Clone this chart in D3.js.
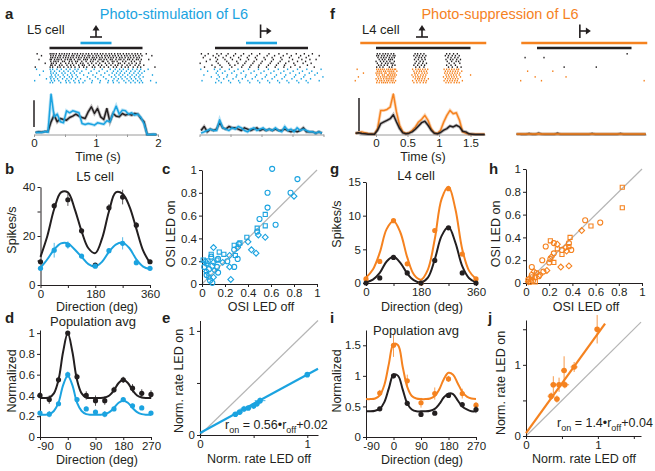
<!DOCTYPE html>
<html>
<head>
<meta charset="utf-8">
<script src="https://cdn.jsdelivr.net/npm/d3@7/dist/d3.min.js"></script>
<style>
  body { margin: 0; background: #fff; }
  svg { font-family: "Liberation Sans", Arial, sans-serif; }
  .axis text { font-size: 11.5px; fill: #231f20; }
  .axis path, .axis line { stroke: #231f20; stroke-width: 1; }
  .psth-axis path, .psth-axis line { stroke: #9a9a9a; }
  .psth-axis text { font-size: 11.5px; fill: #231f20; }
</style>
</head>
<body>
<svg id="fig" width="655" height="471"></svg>
<script>
const svg = d3.select("#fig");

const cyan = "#1ba3e0";
const orange = "#f5821f";
const dark = "#231f20";
const grey = "#b5b5b5";

// ---- a: L5 cell, photo-stimulation (PSTH in 50 ms bins, arbitrary units, scale bar = 20)
const binsA = d3.range(40).map(k => 0.025 + 0.05 * k);
const psthL5Off = [1.5, 2, 1.75, 2.25, 2.25, 9.5, 14.5, 9.5, 12, 11.25, 10.75, 12.75, 13.75, 15.25, 13.75, 12.75, 12, 17, 20.75, 15.75,
  19.5, 13.25, 11.25, 19.5, 9.5, 15.75, 13.75, 13.25, 15.75, 14.5, 15.25, 14.5, 15.75, 15.25, 12, 9.5, 0, 0, 0, 0];
const psthL5On = [1.5, 1.75, 1.5, 2.25, 1.75, 30.25, 13.25, 15.25, 9.5, 8.75, 17.75, 16.25, 17.75, 17, 16.25, 8.25, 7.5, 8.25, 7.75, 7,
  8.75, 8.25, 7.75, 10.25, 9.5, 15.75, 21.25, 15.25, 18.25, 17.75, 15.25, 16.25, 14.5, 15.25, 12.75, 8, 0, 0, 0.25, 0];
const psthL5OffPref = [3, 6, 2, 4, 3, 4, 9, 5, 4, 6, 5, 5, 4, 3, 5, 4, 3, 4, 5, 3,
  4, 3, 4, 3, 4, 3, 3, 4, 3, 2, 3, 2, 3, 5, 2, 2, 2, 1, 2, 1];
const psthL5OnPref = [1, 2, 3, 4, 3, 3, 11, 5, 4, 3, 5, 4, 6, 5, 3, 2, 4, 5, 3, 4,
  5, 3, 4, 3, 5, 3, 2, 6, 3, 4, 2, 5, 3, 4, 3, 2, 2, 1, 2, 1];

// spike times, hundredths of a second
const rasterL5Off = [
  "5 26 29 32 36 41 45 49 53 57 62 66 70 75 79 84 88 93 98 102 107 111 116 121 125 130 135 139 144 149 153 158 163 167 172 181",
  "12 27 31 35 40 43 48 52 56 61 64 69 73 78 82 87 90 95 100 104 109 114 118 122 127 131 136 141 146 150 155 160 164 169 174 190",
  "27 30 34 38 42 47 51 55 59 63 68 72 76 81 85 89 94 97 101 106 110 115 120 124 128 133 138 142 147 152 156 161 166 170",
  "8 26 28 33 37 40 44 50 54 58 60 65 71 74 80 83 86 92 96 99 105 108 113 117 123 126 132 137 140 145 151 154 159 165 168 173 185",
  "27 32 35 39 46 49 57 61 67 70 77 84 91 95 103 110 112 119 126 129 134 143 148 157 162 171",
  "18 28 31 36 43 51 56 62 68 75 79 87 93 100 106 115 121 127 136 139 146 153 158 165 171",
  "27 29 34 41 45 53 59 64 72 78 81 89 96 104 109 117 124 131 135 142 150 155 163 169 177",
  "2 26 30 38 42 48 55 60 66 73 80 85 94 98 107 113 120 128 133 141 147 152 160 167 172 195"
];
const rasterL5On = [
  "4 26 30 37 44 52 58 66 71 84 97 110 123 131 138 144 152 159 166 172 184",
  "15 27 33 41 48 55 63 69 77 92 105 118 128 135 141 149 156 163 170 178",
  "27 31 36 45 50 59 65 74 88 101 114 126 133 139 146 154 161 168 174",
  "9 28 34 39 47 54 61 68 80 95 108 121 130 137 143 151 158 165 171 191",
  "26 29 35 42 49 57 62 70 86 99 112 125 132 140 147 155 162 169 176",
  "20 27 32 38 46 53 60 67 75 90 103 116 129 136 142 150 157 164 171",
  "1 28 33 40 51 56 64 72 82 94 107 120 127 134 145 153 160 167 173 188",
  "26 30 43 52 58 66 73 79 93 106 119 128 137 148 156 163 170 175 197"
];
const rasterL5OffPref = [
  "3 14 28 35 46 58 71 84 97 112 128 141 156 169 182",
  "9 22 31 43 55 67 80 93 109 121 135 148 163 176 193",
  "6 26 38 50 63 77 90 104 117 131 145 160 172",
  "17 29 41 53 66 79 92 106 119 133 150 165 178 188",
  "11 27 44 60 75 88 101 116 130 144 158 171",
  "1 30 47 62 73 86 99 114 127 139 152 167 180",
  "20 33 49 57 70 83 96 111 124 137 154 174",
  "8 25 36 52 68 81 95 108 122 136 147 162 185"
];
const rasterL5OnPref = [
  "2 24 33 48 62 79 95 111 127 142 158 173 196",
  "13 29 41 56 71 88 104 120 136 151 166 181",
  "27 37 52 67 83 99 115 131 146 161 177 190",
  "7 30 45 60 75 92 108 124 139 155 170 186",
  "19 32 44 59 74 90 106 121 137 153 168 199",
  "28 39 54 69 85 101 117 133 149 164 179",
  "4 31 47 63 78 94 110 126 141 157 172 193",
  "26 35 50 65 81 97 113 129 144 160 175"
];

// ---- f: L4 cell, photo-suppression
const binsF = d3.range(42).map(k => -0.325 + 0.05 * k);
const psthL4Off = [0.8, 1, 0.6, 0.4, 0.2, 0.2, 0.2, 2.6, 6.6, 7.6, 8.6, 9.6, 12, 7.6, 3.6, 1, 0.4, 0.8, 1.6, 3.2,
  5.2, 7.2, 8, 5.6, 2.6, 0.8, 0.4, 1.2, 2.6, 3.6, 5.2, 4.6, 5.6, 4.6, 2, 1.6, 0.4, 0.2, 0, 0, 0, 0];
const psthL4On = [0.6, 1.2, 1.6, 1, 0.6, 0.4, 0.2, 3.6, 14.6, 14.6, 15.2, 16.6, 24.6, 13.6, 5.6, 1.6, 0.6, 1, 2.6, 4.6,
  7.6, 9.2, 11.6, 8.6, 3.6, 1, 0.6, 2.6, 7.6, 11.6, 14.6, 12.6, 13.2, 8.6, 1.6, 0.8, 0.4, 0.2, 0.2, 0.2, 0.2, 0.2];
const psthL4OffPref = [0.2, 0.3, 0.2, 0.2, 0.6, 0.2, 0.2, 0.8, 0.3, 0.2, 0.2, 0.2, 0.2, 0.7, 0.2, 0.2, 0.2, 0.2, 0.2, 0.2,
  0.2, 0.2, 0.2, 0.2, 0.6, 0.2, 0.2, 0.2, 0.2, 0.2, 0.2, 0.2, 0.2, 0.6, 0.2, 0.2, 0.2, 0.2, 0.2, 0.2, 0.2, 0.2];
const psthL4OnPref = [0.3, 0.3, 0.3, 0.3, 0.3, 0.3, 0.3, 0.4, 0.3, 0.3, 0.3, 0.3, 0.3, 0.3, 0.3, 0.3, 0.3, 0.3, 0.3, 0.3,
  0.3, 0.3, 0.3, 0.3, 0.3, 0.3, 0.3, 0.3, 0.3, 0.3, 0.3, 0.3, 0.3, 0.3, 0.3, 0.3, 0.3, 0.3, 0.3, 0.3, 0.3, 0.3];

const rasterL4Off = [
  "2 6 11 15 19 24 28 62 66 71 76 112 117 123 129",
  "1 4 9 13 18 22 27 30 60 65 69 74 79 110 115 121 126 132",
  "3 8 12 16 21 25 29 63 68 72 77 114 119 125 130",
  "5 10 14 20 23 26 61 67 73 78 111 118 122 128 134",
  "0 7 12 17 22 29 64 70 75 113 120 127 131",
  "2 9 15 19 24 27 62 68 74 80 116 124 133",
  "4 8 13 18 26 30 60 66 72 77 112 119 126",
  "1 6 11 21 25 63 69 76 115 121 129 135"
];
const rasterL4On = [
  "-30 1 4 7 10 13 17 20 23 26 29 31 58 63 67 70 74 78 82 108 112 116 120 124 128 131",
  "2 5 8 12 15 19 22 25 28 33 60 65 69 72 76 80 110 114 118 122 126 130 136",
  "-20 0 3 6 9 14 16 21 24 27 30 61 64 68 73 77 81 109 113 117 121 125 129 133",
  "1 5 10 13 18 20 23 26 29 32 57 62 66 71 75 79 111 115 119 123 127 132 150",
  "-28 3 7 11 14 17 21 24 27 30 59 63 67 70 74 78 107 112 116 120 124 128 134",
  "0 4 8 12 16 19 22 25 28 62 66 69 73 77 83 110 114 118 122 126 130",
  "-33 2 6 9 13 17 20 24 27 31 58 64 68 72 76 80 108 113 117 121 125 129 137",
  "1 5 9 12 15 18 22 26 29 60 65 70 75 79 111 115 119 124 128 132"
];
const rasterL4OffPref = ["143", "", "-19 11", "", "", "", "", "43 94"];
const rasterL4OnPref = ["", "-15 25", "", "", "-3 46", "", "-26 7 170", ""];

// ---- b, g: single-cell tuning (spikes/s)
const dirs8 = [0, 45, 90, 135, 180, 225, 270, 315, 360];
const l5Off = [9.5, 32.3, 34.8, 22.1, 8.1, 31.5, 35.9, 24.4, 9.5];
const l5OffErr = [0.8, 1.2, 2.5, 1, 0.8, 1.5, 3, 1.2, 0.8];
const l5On = [6.8, 14.2, 16.3, 11.8, 7.7, 14, 17, 9.1, 6.8];
const l5OnErr = [0.6, 3, 1.5, 0.8, 0.6, 1, 2.5, 1, 0.6];
const fitDirs = [0, 22.5, 45, 67.5, 90, 112.5, 135, 157.5, 180, 202.5, 225, 247.5, 270, 292.5, 315, 337.5, 360];
const l5OffFit = [11.5, 20, 31, 37.8, 37.8, 31, 22, 15, 13, 19, 30, 37.8, 37.2, 32, 23, 14, 9];
const l5OnFit = [7, 10.5, 14.5, 17, 17, 14.5, 11.5, 8.5, 7.5, 9.5, 13.5, 16.5, 17.3, 15, 10.5, 7.5, 6.5];

const l4Off = [0, 0.75, 3.8, 1.5, 0, 3.35, 8.2, 1.5, 0];
const l4On = [0.6, 3.2, 9.25, 2.85, 0, 7.8, 14, 4.3, 0.6];
const l4OffFit = [0.1, 0.5, 1.5, 3.2, 3.9, 3, 1.4, 0.4, 0.1, 0.8, 3.5, 7, 8.3, 6, 2.5, 0.7, 0.1];
const l4OnFit = [0.8, 2, 4.5, 8, 9.2, 7.5, 3.8, 1.2, 0.5, 2, 6.5, 12.5, 14.3, 11, 5, 1.8, 0.6];

// ---- c, h: OSI scatter (LED off, LED on, marker)
const osiStimOff = [0.61, 0.83, 0.57, 0.77, 0.80, 0.57, 0.55, 0.55, 0.64, 0.55, 0.50, 0.48, 0.48, 0.49, 0.47, 0.43, 0.39, 0.40, 0.33,
  0.32, 0.31, 0.28, 0.28, 0.29, 0.31, 0.24, 0.22, 0.24, 0.28, 0.25, 0.19, 0.15, 0.10, 0.08, 0.08, 0.13, 0.14, 0.10, 0.09, 0.11,
  0.14, 0.10, 0.07, 0.09, 0.01, 0.03, 0.04, 0.02, 0.04, 0.04, 0.06, 0.06, 0.05, 0.13, 0.18];
const osiStimOn = [1.01, 0.92, 0.80, 0.80, 0.77, 0.67, 0.61, 0.51, 0.52, 0.41, 0.57, 0.49, 0.46, 0.43, 0.27, 0.30, 0.41, 0.37, 0.36,
  0.35, 0.32, 0.34, 0.30, 0.25, 0.22, 0.25, 0.20, 0.15, 0.15, 0.04, 0.26, 0.28, 0.32, 0.26, 0.24, 0.21, 0.22, 0.19, 0.16, 0.12,
  0.10, 0.06, 0.03, 0.01, 0.21, 0.20, 0.18, 0.15, 0.11, 0.08, 0.06, 0.13, 0.20, 0.15, 0.19];
const osiStimShape = "oooodossodosodddsdsodsosodododssdsosodododoosdoodosooodo".split("");

const osiSupOff = [0.83, 0.83, 0.51, 0.64, 0.56, 0.48, 0.38, 0.21, 0.24, 0.27, 0.17, 0.27, 0.31, 0.34, 0.37, 0.37, 0.35, 0.39, 0.31,
  0.24, 0.22, 0.21, 0.24, 0.20, 0.14, 0.30, 0.37, 0.18, 0.15, 0.12, 0.11, 0.09, 0.05, 0.07, 0.05, 0.08, 0.02, 0.04, 0.02, 0.06,
  0.08, 0.05, 0.03];
const osiSupOn = [0.84, 0.66, 0.55, 0.53, 0.50, 0.46, 0.40, 0.37, 0.35, 0.34, 0.32, 0.30, 0.29, 0.31, 0.32, 0.35, 0.28, 0.29, 0.25,
  0.26, 0.23, 0.21, 0.18, 0.18, 0.20, 0.14, 0.15, 0.11, 0.10, 0.07, 0.06, 0.09, 0.14, 0.10, 0.07, 0.05, 0.03, 0.01, 0.01, 0.02,
  0.01, 0.05, 0.04];
const osiSupShape = "ssoosdssodosodsodosodosoodddodosodosoodosodo".split("");

// ---- d, i: population tuning (normalized)
const dirs12 = [-90, -60, -30, 0, 30, 60, 90, 120, 150, 180, 210, 240, 270];
const popL5Off = [0.40, 0.36, 0.55, 1.0, 0.58, 0.40, 0.35, 0.35, 0.455, 0.55, 0.47, 0.42, 0.41];
const popL5OffErr = [0.03, 0.04, 0.03, 0.02, 0.03, 0.04, 0.05, 0.04, 0.03, 0.03, 0.04, 0.04, 0.04];
const popL5On = [0.23, 0.22, 0.32, 0.60, 0.36, 0.27, 0.24, 0.22, 0.27, 0.36, 0.30, 0.28, 0.23];
const popL5OnErr = [0.02, 0.03, 0.02, 0.03, 0.02, 0.02, 0.02, 0.03, 0.02, 0.02, 0.02, 0.02, 0.02];
const popFitDirs = [-90, -75, -60, -45, -30, -15, 0, 15, 30, 45, 60, 75, 90, 105, 120, 135, 150, 165, 180, 195, 210, 225, 240, 255, 270];
const popL5OffFit = [0.375, 0.375, 0.38, 0.42, 0.55, 0.82, 1.0, 0.82, 0.55, 0.42, 0.38, 0.375, 0.375, 0.375, 0.38, 0.40, 0.45, 0.52, 0.55, 0.52, 0.45, 0.40, 0.38, 0.375, 0.375];
const popL5OnFit = [0.215, 0.215, 0.22, 0.25, 0.33, 0.50, 0.59, 0.50, 0.33, 0.25, 0.22, 0.215, 0.215, 0.215, 0.22, 0.24, 0.28, 0.33, 0.35, 0.33, 0.28, 0.24, 0.22, 0.215, 0.215];

const dirs8b = [-45, 0, 45, 90, 135, 180, 225, 270];
const popL4Off = [0.46, 1.0, 0.55, 0.37, 0.39, 0.68, 0.53, 0.45];
const popL4OffErr = [0.03, 0.04, 0.04, 0.04, 0.03, 0.04, 0.03, 0.06];
const popL4On = [0.72, 1.5, 0.92, 0.56, 0.71, 0.95, 0.71, 0.52];
const popL4OnErr = [0.05, 0.19, 0.1, 0.08, 0.1, 0.05, 0.08, 0.05];
const popL4OffFit = [0.42, 0.42, 0.43, 0.46, 0.57, 0.80, 1.02, 1.0, 0.78, 0.55, 0.45, 0.42, 0.42, 0.42, 0.43, 0.46, 0.54, 0.65, 0.71, 0.70, 0.60, 0.50, 0.45, 0.42, 0.42];
const popL4OnFit = [0.62, 0.62, 0.63, 0.68, 0.85, 1.20, 1.52, 1.50, 1.15, 0.82, 0.67, 0.63, 0.62, 0.62, 0.63, 0.67, 0.78, 0.95, 1.05, 1.02, 0.88, 0.74, 0.66, 0.63, 0.62];

// ---- e, j: normalized rate LED off vs on
const rateStimOff = [0.33, 0.37, 0.41, 0.45, 0.50, 0.53, 0.56, 1.0];
const rateStimOn = [0.20, 0.22, 0.25, 0.26, 0.28, 0.30, 0.33, 0.58];
const rateStimErrX = [0.03, 0.03, 0.04, 0.03, 0.04, 0.03, 0.05, 0.02];
const rateStimErrY = [0.02, 0.02, 0.03, 0.02, 0.03, 0.02, 0.03, 0.02];
const fitStim = [[0, 0.02], [1.1, 0.636]];

const rateSupOff = [0.99, 0.67, 0.53, 0.38, 0.46, 0.54, 0.35, 0.43];
const rateSupOn = [1.5, 0.97, 0.92, 0.72, 0.72, 0.72, 0.56, 0.52];
const rateSupErrX = [0.03, 0.05, 0.04, 0.04, 0.05, 0.06, 0.05, 0.04];
const rateSupErrY = [0.2, 0.07, 0.2, 0.12, 0.1, 0.05, 0.05, 0.05];
const fitSup = [[0, 0.04], [1.1, 1.58]];

// ---------------------------------------------------------------- helpers
function text(x, y, s, opts = {}) {
  return svg.append("text")
    .attr("x", x).attr("y", y)
    .attr("text-anchor", opts.anchor || "start")
    .attr("font-size", opts.size || 12.5)
    .attr("font-weight", opts.bold ? "bold" : null)
    .attr("fill", opts.color || dark)
    .text(s);
}

function yLabel(x, y, s) {
  svg.append("text")
    .attr("transform", `translate(${x},${y}) rotate(-90)`)
    .attr("text-anchor", "middle")
    .attr("font-size", 12.5)
    .attr("fill", dark)
    .text(s);
}

function fmtOnly(labels) {
  return d => (labels.includes(d) ? String(d) : "");
}

function dropEmpty(g) {
  g.selectAll(".tick text").filter(function () { return this.textContent === ""; }).remove();
}

function drawAxes(x, y, xTicks, xLabels, yTicks, yLabels) {
  svg.append("g").attr("class", "axis")
    .attr("transform", `translate(0,${y.range()[0]})`)
    .call(d3.axisBottom(x).tickValues(xTicks).tickFormat(fmtOnly(xLabels))
      .tickSize(3).tickSizeOuter(0).tickPadding(1.5))
    .call(dropEmpty)
    .call(g => g.selectAll(".tick text").filter(d => d < 0).attr("dx", 5));
  svg.append("g").attr("class", "axis")
    .attr("transform", `translate(${x.range()[0]},0)`)
    .call(d3.axisLeft(y).tickValues(yTicks).tickFormat(fmtOnly(yLabels))
      .tickSize(3).tickSizeOuter(0).tickPadding(2))
    .call(dropEmpty);
}

const smooth = d3.curveCatmullRom.alpha(0.5);

function drawCurve(x, y, xs, ys, color) {
  svg.append("path")
    .datum(xs.map((d, i) => [d, ys[i]]))
    .attr("fill", "none").attr("stroke", color).attr("stroke-width", 2)
    .attr("d", d3.line().x(d => x(d[0])).y(d => y(d[1])).curve(smooth));
}

function drawPoints(x, y, xs, ys, errs, color) {
  const g = svg.append("g");
  if (errs) {
    g.selectAll("line").data(xs).join("line")
      .attr("x1", d => x(d)).attr("x2", d => x(d))
      .attr("y1", (d, i) => y(ys[i] - errs[i])).attr("y2", (d, i) => y(ys[i] + errs[i]))
      .attr("stroke", color).attr("stroke-width", 1).attr("opacity", 0.75);
  }
  g.selectAll("circle").data(xs).join("circle")
    .attr("cx", d => x(d)).attr("cy", (d, i) => y(ys[i]))
    .attr("r", 2.6).attr("fill", color);
}

function drawScatter(x, y, xs, ys, shapes, color) {
  const sym = { o: d3.symbolCircle, s: d3.symbolSquare, d: d3.symbolSquare };
  svg.append("g").selectAll("path").data(xs).join("path")
    .attr("transform", (d, i) => `translate(${x(d)},${y(ys[i])})` + (shapes[i] === "d" ? " rotate(45)" : ""))
    .attr("d", (d, i) => d3.symbol(sym[shapes[i]] || d3.symbolCircle, shapes[i] === "o" ? 20 : 17)())
    .attr("fill", "none").attr("stroke", color).attr("stroke-width", 1.1);
}

function drawRates(x, y, xs, ys, ex, ey, color) {
  const g = svg.append("g").attr("stroke", color).attr("stroke-width", 1).attr("opacity", 0.8);
  xs.forEach((d, i) => {
    g.append("line").attr("x1", x(d - ex[i])).attr("x2", x(d + ex[i])).attr("y1", y(ys[i])).attr("y2", y(ys[i]));
    g.append("line").attr("x1", x(d)).attr("x2", x(d)).attr("y1", y(ys[i] - ey[i])).attr("y2", y(ys[i] + ey[i]));
  });
  svg.append("g").selectAll("circle").data(xs).join("circle")
    .attr("cx", d => x(d)).attr("cy", (d, i) => y(ys[i])).attr("r", 2.8).attr("fill", color);
}

function drawLine(x, y, pts, color, width) {
  svg.append("path").datum(pts)
    .attr("fill", "none").attr("stroke", color).attr("stroke-width", width)
    .attr("d", d3.line().x(d => x(d[0])).y(d => y(d[1])));
}

function equation(x, y, slope, offset) {
  const t = svg.append("text").attr("x", x).attr("y", y).attr("font-size", 12.5).attr("fill", dark);
  t.append("tspan").text("r");
  t.append("tspan").attr("font-size", 9).attr("dy", 4).text("on");
  t.append("tspan").attr("dy", -4).text(` = ${slope}\u2022r`);
  t.append("tspan").attr("font-size", 9).attr("dy", 4).text("off");
  t.append("tspan").attr("dy", -4).text(offset);
}

// PSTH + raster block
function drawPsth(cfg) {
  const x = d3.scaleLinear().domain(cfg.tDomain).range(cfg.xRange);
  const y = d3.scaleLinear().domain([0, 20]).range([cfg.base, cfg.base - cfg.barLen]);

  svg.append("g").attr("class", "psth-axis")
    .attr("transform", `translate(0,${cfg.base})`)
    .call(d3.axisBottom(x).tickValues(cfg.ticks).tickSize(2.5).tickSizeOuter(0).tickPadding(2)
      .tickFormat(cfg.labels ? fmtOnly(cfg.labels) : ""))
    .call(dropEmpty);

  if (cfg.scaleBar) {
    svg.append("line")
      .attr("x1", cfg.xRange[0]).attr("x2", cfg.xRange[0])
      .attr("y1", cfg.base - cfg.barGap).attr("y2", cfg.base - cfg.barGap - cfg.barLen)
      .attr("stroke", dark).attr("stroke-width", 1.5);
  }

  const line = d3.line().x((d, i) => x(cfg.bins[i])).y(d => y(d));
  cfg.traces.forEach(tr => {
    svg.append("path").datum(tr.values)
      .attr("fill", "none").attr("stroke", tr.color).attr("stroke-opacity", 0.3)
      .attr("stroke-width", 3.2).attr("d", line);
    svg.append("path").datum(tr.values)
      .attr("fill", "none").attr("stroke", tr.color)
      .attr("stroke-width", 1.5).attr("stroke-linejoin", "round").attr("d", line);
  });

  cfg.rasters.forEach(r => {
    const g = svg.append("g").attr("fill", r.color);
    r.trials.forEach((trial, row) => {
      if (!trial) return;
      trial.split(" ").map(Number).forEach(s => {
        g.append("rect")
          .attr("x", x(s / 100) - 0.6).attr("y", r.top + row * 1.9)
          .attr("width", 1.3).attr("height", 1.6);
      });
    });
  });

  cfg.bars.forEach(b => {
    svg.append("line")
      .attr("x1", x(b.from)).attr("x2", x(b.to)).attr("y1", b.y).attr("y2", b.y)
      .attr("stroke", b.color).attr("stroke-width", 2.6);
  });

  // stimulus icon: null/preferred direction arrow
  const ix = x(cfg.iconAt);
  const ic = svg.append("g").attr("stroke", dark).attr("fill", dark).attr("stroke-width", 1.6);
  if (cfg.icon === "up") {
    ic.append("line").attr("x1", ix - 6).attr("x2", ix + 6).attr("y1", 37).attr("y2", 37);
    ic.append("line").attr("x1", ix).attr("x2", ix).attr("y1", 37).attr("y2", 29);
    ic.append("path").attr("stroke", "none").attr("d", `M${ix - 3.5},30.5L${ix + 3.5},30.5L${ix},25Z`);
  } else {
    ic.append("line").attr("x1", ix).attr("x2", ix).attr("y1", 24.5).attr("y2", 38);
    ic.append("line").attr("x1", ix).attr("x2", ix + 7).attr("y1", 31).attr("y2", 31);
    ic.append("path").attr("stroke", "none").attr("d", `M${ix + 6},27.5L${ix + 6},34.5L${ix + 11},31Z`);
  }
}

// ---------------------------------------------------------------- a
text(5, 19, "a", { bold: true, size: 15 });
text(174, 19, "Photo-stimulation of L6", { anchor: "middle", size: 14.5, color: cyan });
text(27, 34, "L5 cell", { size: 13 });

drawPsth({
  tDomain: [0, 2], xRange: [34, 158], base: 134.5, barLen: 26.7, barGap: 7.5, scaleBar: true,
  ticks: [0, 0.5, 1, 1.5, 2], labels: [0, 1, 2], bins: binsA,
  traces: [{ values: psthL5Off, color: dark }, { values: psthL5On, color: cyan }],
  rasters: [{ trials: rasterL5Off, color: dark, top: 53 }, { trials: rasterL5On, color: cyan, top: 68.5 }],
  bars: [{ from: 0.75, to: 1.25, y: 43, color: cyan }, { from: 0.25, to: 1.75, y: 48, color: dark }],
  icon: "up", iconAt: 1.0
});
text(98, 161, "Time (s)", { anchor: "middle" });

drawPsth({
  tDomain: [0, 2], xRange: [199.5, 323.5], base: 134.5, barLen: 26.7, barGap: 7.5, scaleBar: false,
  ticks: [0, 0.5, 1, 1.5, 2], labels: null, bins: binsA,
  traces: [{ values: psthL5OffPref, color: dark }, { values: psthL5OnPref, color: cyan }],
  rasters: [{ trials: rasterL5OffPref, color: dark, top: 53 }, { trials: rasterL5OnPref, color: cyan, top: 68.5 }],
  bars: [{ from: 0.75, to: 1.25, y: 43, color: cyan }, { from: 0.25, to: 1.75, y: 48, color: dark }],
  icon: "right", iconAt: 0.985
});

// ---------------------------------------------------------------- f
text(330, 19, "f", { bold: true, size: 15 });
text(500, 19, "Photo-suppression of L6", { anchor: "middle", size: 14.5, color: orange });
text(362, 34, "L4 cell", { size: 13 });

drawPsth({
  tDomain: [-0.27, 1.73], xRange: [359, 485], base: 134.5, barLen: 33, barGap: 3.5, scaleBar: true,
  ticks: [0, 0.5, 1, 1.5], labels: [0, 0.5, 1, 1.5], bins: binsF,
  traces: [{ values: psthL4On, color: orange }, { values: psthL4Off, color: dark }],
  rasters: [{ trials: rasterL4Off, color: dark, top: 53 }, { trials: rasterL4On, color: orange, top: 68.5 }],
  bars: [{ from: -0.25, to: 1.75, y: 43, color: orange }, { from: 0, to: 1.5, y: 48, color: dark }],
  icon: "up", iconAt: 0.73
});
text(423, 161, "Time (s)", { anchor: "middle" });

drawPsth({
  tDomain: [-0.27, 1.73], xRange: [520, 646], base: 134.5, barLen: 33, barGap: 3.5, scaleBar: false,
  ticks: [], labels: null, bins: binsF,
  traces: [{ values: psthL4OffPref, color: dark }, { values: psthL4OnPref, color: orange }],
  rasters: [{ trials: rasterL4OffPref, color: dark, top: 53 }, { trials: rasterL4OnPref, color: orange, top: 68.5 }],
  bars: [{ from: -0.25, to: 1.75, y: 43, color: orange }, { from: 0, to: 1.5, y: 48, color: dark }],
  icon: "right", iconAt: 0.68
});

// ---------------------------------------------------------------- b
{
  const x = d3.scaleLinear().domain([0, 360]).range([40.5, 150]);
  const y = d3.scaleLinear().domain([0, 40]).range([285, 187]);
  drawAxes(x, y, [0, 90, 180, 270, 360], [0, 180, 360], [0, 10, 20, 30, 40], [0, 20, 40]);
  drawCurve(x, y, fitDirs, l5OffFit, dark);
  drawCurve(x, y, fitDirs, l5OnFit, cyan);
  drawPoints(x, y, dirs8, l5Off, l5OffErr, dark);
  drawPoints(x, y, dirs8, l5On, l5OnErr, cyan);
  text(5, 174, "b", { bold: true, size: 15 });
  text(95, 181, "L5 cell", { anchor: "middle", size: 13 });
  text(97, 311, "Direction (deg)", { anchor: "middle" });
  yLabel(16, 230, "Spikes/s");
}

// ---------------------------------------------------------------- c
{
  const x = d3.scaleLinear().domain([0, 1]).range([202, 317]);
  const y = d3.scaleLinear().domain([0, 1]).range([284, 170]);
  drawLine(x, y, [[0, 0], [1, 1]], grey, 1.2);
  drawAxes(x, y, [0, 0.2, 0.4, 0.6, 0.8, 1], [0, 0.2, 0.4, 0.6, 0.8, 1], [0, 0.2, 0.4, 0.6, 0.8, 1], [0, 0.2, 0.4, 0.6, 0.8, 1]);
  drawScatter(x, y, osiStimOff, osiStimOn, osiStimShape, cyan);
  text(162, 174, "c", { bold: true, size: 15 });
  text(261, 311, "OSI LED off", { anchor: "middle" });
  yLabel(175, 234, "OSI LED on");
}

// ---------------------------------------------------------------- d
{
  const x = d3.scaleLinear().domain([-90, 270]).range([40, 151]);
  const y = d3.scaleLinear().domain([0, 1.03]).range([437, 330]);
  drawAxes(x, y, [-90, 0, 90, 180, 270], [-90, 0, 90, 180, 270], [0, 0.2, 0.4, 0.6, 0.8, 1], [0, 0.2, 0.4, 0.6, 0.8, 1]);
  drawCurve(x, y, popFitDirs, popL5OffFit, dark);
  drawCurve(x, y, popFitDirs, popL5OnFit, cyan);
  drawPoints(x, y, dirs12, popL5Off, popL5OffErr, dark);
  drawPoints(x, y, dirs12, popL5On, popL5OnErr, cyan);
  text(5, 323, "d", { bold: true, size: 15 });
  text(93, 326, "Population avg", { anchor: "middle", size: 13 });
  text(97, 464, "Direction (deg)", { anchor: "middle" });
  yLabel(16, 381, "Normalized");
}

// ---------------------------------------------------------------- e
{
  const x = d3.scaleLinear().domain([0, 1.1]).range([200, 318]);
  const y = d3.scaleLinear().domain([0, 1.1]).range([435, 320.5]);
  drawLine(x, y, [[0, 0], [1.1, 1.1]], grey, 1.2);
  drawAxes(x, y, [0, 0.5, 1], [0, 1], [0, 0.5, 1], [0, 1]);
  drawLine(x, y, fitStim, cyan, 2.2);
  drawRates(x, y, rateStimOff, rateStimOn, rateStimErrX, rateStimErrY, cyan);
  text(162, 323, "e", { bold: true, size: 15 });
  equation(225, 429, "0.56", "+0.02");
  text(259, 463, "Norm. rate LED off", { anchor: "middle" });
  yLabel(183, 381, "Norm. rate LED on");
}

// ---------------------------------------------------------------- g
{
  const x = d3.scaleLinear().domain([0, 360]).range([366, 476]);
  const y = d3.scaleLinear().domain([0, 15]).range([283, 182]);
  drawAxes(x, y, [0, 90, 180, 270, 360], [0, 180, 360], [0, 5, 10, 15], [0, 5, 10, 15]);
  drawCurve(x, y, fitDirs, l4OnFit, orange);
  drawCurve(x, y, fitDirs, l4OffFit, dark);
  drawPoints(x, y, dirs8, l4On, null, orange);
  drawPoints(x, y, dirs8, l4Off, null, dark);
  text(330, 174, "g", { bold: true, size: 15 });
  text(416, 180, "L4 cell", { anchor: "middle", size: 13 });
  text(422, 311, "Direction (deg)", { anchor: "middle" });
  yLabel(341, 224, "Spikes/s");
}

// ---------------------------------------------------------------- h
{
  const x = d3.scaleLinear().domain([0, 1]).range([526, 642]);
  const y = d3.scaleLinear().domain([0, 1]).range([283, 169]);
  drawLine(x, y, [[0, 0], [1, 1]], grey, 1.2);
  drawAxes(x, y, [0, 0.2, 0.4, 0.6, 0.8, 1], [0, 0.2, 0.4, 0.6, 0.8, 1], [0, 0.2, 0.4, 0.6, 0.8, 1], [0, 0.2, 0.4, 0.6, 0.8, 1]);
  drawScatter(x, y, osiSupOff, osiSupOn, osiSupShape, orange);
  text(489, 174, "h", { bold: true, size: 15 });
  text(586, 311, "OSI LED off", { anchor: "middle" });
  yLabel(500, 234, "OSI LED on");
}

// ---------------------------------------------------------------- i
{
  const x = d3.scaleLinear().domain([-90, 270]).range([366, 476]);
  const y = d3.scaleLinear().domain([0, 1.75]).range([437, 330]);
  drawAxes(x, y, [-90, 0, 90, 180, 270], [-90, 0, 90, 180, 270], [0, 0.5, 1, 1.5], [0, 0.5, 1, 1.5]);
  drawCurve(x, y, popFitDirs, popL4OnFit, orange);
  drawCurve(x, y, popFitDirs, popL4OffFit, dark);
  drawPoints(x, y, dirs8b, popL4On, popL4OnErr, orange);
  drawPoints(x, y, dirs8b, popL4Off, popL4OffErr, dark);
  text(330, 323, "i", { bold: true, size: 15 });
  text(416, 335, "Population avg", { anchor: "middle", size: 13 });
  text(422, 464, "Direction (deg)", { anchor: "middle" });
  yLabel(341, 381, "Normalized");
}

// ---------------------------------------------------------------- j
{
  const x = d3.scaleLinear().domain([0, 1.6]).range([526, 641]);
  const y = d3.scaleLinear().domain([0, 1.63]).range([436, 320]);
  drawLine(x, y, [[0, 0], [1.6, 1.6]], grey, 1.2);
  drawAxes(x, y, [0, 0.5, 1, 1.5], [0, 1], [0, 0.5, 1, 1.5], [0, 1]);
  drawLine(x, y, fitSup, orange, 2.2);
  drawRates(x, y, rateSupOff, rateSupOn, rateSupErrX, rateSupErrY, orange);
  text(488, 323, "j", { bold: true, size: 15 });
  equation(557, 427, "1.4", "+0.04");
  text(584, 463, "Norm. rate LED off", { anchor: "middle" });
  yLabel(505, 383, "Norm. rate LED on");
}
</script>
</body>
</html>
